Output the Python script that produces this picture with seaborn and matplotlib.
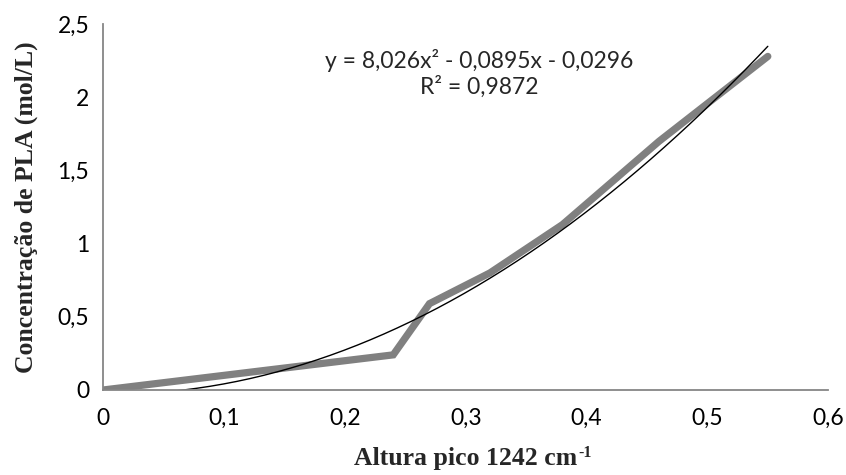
import numpy as np
import pandas as pd
import seaborn as sns
from matplotlib import pyplot as plt

# Data
altura = [0.0, 0.24, 0.27, 0.32, 0.38, 0.46, 0.55]
concentracao = [0.0, 0.24, 0.59, 0.80, 1.13, 1.70, 2.28]

# Polynomial trendline coefficients (as printed on the chart)
coef_a, coef_b, coef_c = 8.026, -0.0895, -0.0296
eq_text = "y = 8,026x² - 0,0895x - 0,0296"
r2_text = "R² = 0,9872"

x_ticks = [0, 0.1, 0.2, 0.3, 0.4, 0.5, 0.6]
y_ticks = [0, 0.5, 1, 1.5, 2, 2.5]


def fmt(v):
    return ("%g" % v).replace(".", ",")


sns.set_style("white")
plt.rcParams['font.family'] = ['Lato', 'DejaVu Sans']

df = pd.DataFrame({'Altura': altura, 'Conc': concentracao})

fig = plt.figure(figsize=(8.46, 4.75), dpi=100)
ax = fig.add_axes([0.122, 0.179, 0.857, 0.770])

sns.lineplot(data=df, x='Altura', y='Conc', ax=ax, color='#808080',
             linewidth=5.2, solid_joinstyle='miter')

# trendline over the data range
xs = np.linspace(min(altura), max(altura), 200)
ax.plot(xs, coef_a * xs ** 2 + coef_b * xs + coef_c, color='black', linewidth=1.0)

ax.set_xlim(0, 0.6)
ax.set_ylim(0, 2.5)
ax.set_xticks(x_ticks)
ax.set_xticklabels([fmt(v) for v in x_ticks])
ax.set_yticks(y_ticks)
ax.set_yticklabels([fmt(v) for v in y_ticks])

for side in ['top', 'right']:
    ax.spines[side].set_visible(False)
for side in ['left', 'bottom']:
    ax.spines[side].set_color('#868686')
    ax.spines[side].set_linewidth(1.3)
ax.tick_params(axis='both', direction='out', length=6, width=1.3,
               color='#868686', labelsize=16.5, labelcolor='black')
ax.tick_params(axis='x', pad=7)
ax.tick_params(axis='y', pad=4)

serif = dict(family='Liberation Serif', fontweight='bold')
xl = ax.set_xlabel('Altura pico 1242 cm', fontsize=18.5, labelpad=13, **serif)
ax.set_ylabel('Concentração de PLA (mol/L)', fontsize=18.5, labelpad=14, **serif)

# superscript -1 after the x label
fig.canvas.draw()
bb = xl.get_window_extent()
fig.text((bb.x1 + 1) / fig.bbox.width, (bb.y1 + 2) / fig.bbox.height, '-1',
         ha='left', va='top', fontsize=11.5, **serif)

ax.text(0.311, 2.25, eq_text, ha='center', va='center', fontsize=16.5)
ax.text(0.311, 2.07, r2_text, ha='center', va='center', fontsize=16.5)

fig.savefig('out.png', dpi=100)
plt.close(fig)
